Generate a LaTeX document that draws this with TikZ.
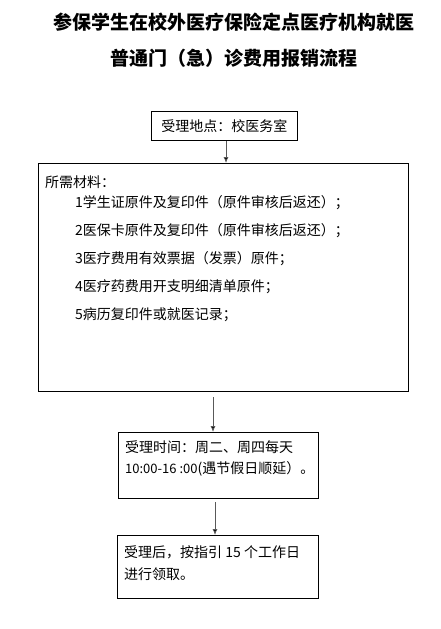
\documentclass[tikz,border=0pt]{standalone}
\usepackage{fontspec}
\newfontfamily\cjk{Noto Sans CJK SC}
\tikzset{
	box/.style = {draw, thick, rectangle, anchor=north west, inner sep=0pt},
	txt/.style = {anchor=west, inner sep=0pt, font=\cjk\fontsize{14}{16}\selectfont},
	arr/.style = {draw=gray!70!black, thick, -{Latex[length=6pt,width=5pt,fill=black]}}
}
\usetikzlibrary{arrows.meta}
\begin{document}
\begin{tikzpicture}[x=1pt,y=-1pt]
	\useasboundingbox (0,0) rectangle (441,629);
	% title
	\node (t1) at (234,22) {\cjk\bfseries\fontsize{19}{21}\selectfont 参保学生在校外医疗保险定点医疗机构就医};
	\node (t2) at (234,58) {\cjk\bfseries\fontsize{19}{21}\selectfont 普通门（急）诊费用报销流程};
	% boxes
	\node [box, minimum width=146, minimum height=29] (place) at (151,111) {};
	\node [txt, anchor=center] (placetxt) at (place.center) {受理地点：校医务室};
	\node [box, minimum width=370, minimum height=228] (mat) at (38,163) {};
	\node [txt] (mattitle) at (45,182) {所需材料：};
	\foreach \i/\s in {1/学生证原件及复印件（原件审核后返还）；,
		2/医保卡原件及复印件（原件审核后返还）；,
		3/医疗费用有效票据（发票）原件；,
		4/医疗药费用开支明细清单原件；,
		5/病历复印件或就医记录；}
		\node [txt] (item\i) at (75,175+28*\i) {\i\s};
	\node [box, minimum width=200, minimum height=66] (time) at (118,432) {};
	\node [txt] (time1) at (125,447) {受理时间：周二、周四每天};
	\node [txt] (time2) at (125,469) {{\fontsize{13}{16}\selectfont 10:00-16 :00}(遇节假日顺延）。};
	\node [box, minimum width=201, minimum height=63] (take) at (117,535) {};
	\node [txt] (take1) at (124,552) {受理后，按指引 15 个工作日};
	\node [txt] (take2) at (124,574) {进行领取。};
	% arrows
	\draw [arr] (place.south -| 226,0) -- (mat.north -| 226,0);
	\coordinate (a2) at (213,397);
	\draw [arr] (a2) -- (a2 |- time.north);
	\coordinate (a3) at (215,502);
	\draw [arr] (a3) -- (a3 |- take.north);
\end{tikzpicture}
\end{document}
